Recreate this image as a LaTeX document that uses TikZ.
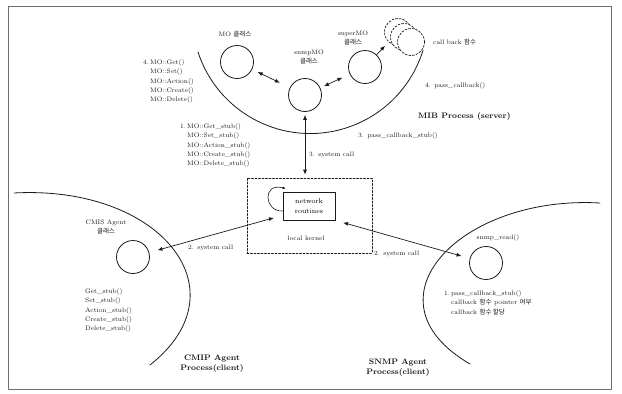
\documentclass[tikz,border=0pt]{standalone}
\usepackage{fontspec}
\newfontfamily\kr{Noto Sans CJK KR}
\usetikzlibrary{arrows.meta}
\definecolor{MIBInk}{HTML}{1A1A1A}
\definecolor{MIBFrame}{HTML}{6E6E6E}

\begin{document}
\begin{tikzpicture}[x=1pt,y=-1pt,line cap=round,line join=round,
  font=\fontsize{6.5}{9.3}\selectfont,
  obj/.style={circle,draw=MIBInk,line width=0.8pt,minimum size=33pt,inner sep=0pt},
  cbobj/.style={circle,draw=MIBInk,fill=white,dash pattern=on 2pt off 1.6pt,line width=0.7pt,minimum size=27pt,inner sep=0pt},
  lbl/.style={align=center,inner sep=0pt,text=MIBInk},
  txt/.style={inner sep=0pt,anchor=north west,text=MIBInk},
  proc/.style={font=\fontsize{8}{10}\selectfont\bfseries,align=center,inner sep=0pt,text=MIBInk},
  link/.style={{Latex[length=5pt,width=4pt]}-{Latex[length=5pt,width=4pt]},draw=MIBInk,line width=0.7pt},
  bound/.style={draw=MIBInk,line width=0.8pt}]
  \useasboundingbox (0,0) rectangle (622,394);
  \draw[MIBFrame,line width=0.6pt] (8,6) rectangle (611,389);

  % MIB process (server)
  \draw[bound] (198,52) arc[start angle=162,end angle=17,radius=118];
  \node[obj] (mo) at (237,62) {};
  \node[lbl] (molbl) at (235,34) {MO {\kr 클래스}};
  \node[obj] (snmpmo) at (305,95) {};
  \node[lbl] (snmpmolbl) at (309,57) {snmpMO\\{\kr 클래스}};
  \node[obj] (supermo) at (365,67) {};
  \node[lbl] (supermolbl) at (353,38) {superMO\\{\kr 클래스}};
  \node[cbobj] (cba) at (398,32) {};
  \node[cbobj] (cbb) at (404,37) {};
  \node[cbobj] (cbc) at (411,42) {};
  \node[lbl,anchor=west] (cblbl) at (433,42) {call back {\kr 함수}};
  \draw[link,shorten <=6pt,shorten >=11pt] (mo) -- (snmpmo);
  \draw[link,shorten <=4pt,shorten >=8pt] (snmpmo) -- (supermo);
  \draw[-{Latex[length=5pt,width=4pt]},draw=MIBInk,line width=0.7pt,shorten >=5pt] (supermo) -- (cba);
  \node[txt] (molist) at (143,57.8) {\begin{tabular}{@{}r@{\,}l@{}}4. & MO::Get()\\ & MO::Set()\\ & MO::Action()\\ & MO::Create()\\ & MO::Delete()\end{tabular}};
  \node[txt] (stublist) at (180,121.8) {\begin{tabular}{@{}r@{\,}l@{}}1. & MO::Get\_stub()\\ & MO::Set\_stub()\\ & MO::Action\_stub()\\ & MO::Create\_stub()\\ & MO::Delete\_stub()\end{tabular}};
  \node[lbl,anchor=west] (passcb) at (425,86) {4. pass\_callback()};
  \node[proc,anchor=west] (mibproc) at (418,116) {MIB Process (server)};
  \node[lbl,anchor=west] (passstub) at (358,136) {3. pass\_callback\_stub()};

  % local kernel
  \node[draw=MIBInk,dash pattern=on 2pt off 1.5pt,line width=0.6pt,minimum width=125pt,minimum height=75pt] (kernel) at (309.5,215.5) {};
  \node[draw=MIBInk,line width=0.8pt,minimum width=52pt,minimum height=28pt,align=center,inner sep=0pt,font=\fontsize{7}{10}\selectfont] (routines) at (309,206) {network\\routines};
  \node[lbl] (kernellbl) at (306,238) {local kernel};
  \draw[-{Latex[length=3pt,width=3pt]},draw=MIBInk,line width=0.6pt] ([yshift=-5pt]routines.west) .. controls (264,212) and (262,182) .. ([xshift=3pt,yshift=3pt]routines.north west);
  \draw[link,shorten <=3pt,shorten >=3pt] (snmpmo.south) -- (kernel.north -| snmpmo);
  \node[lbl,anchor=west] (syscallup) at (309,155) {3. system call};

  % CMIP agent process (client)
  \draw[bound] (14,193) .. controls (160,185) and (245,290) .. (150,365);
  \node[obj] (cmis) at (133,257) {};
  \node[lbl] (cmislbl) at (106,227) {CMIS Agent\\{\kr 클래스}};
  \node[txt] (cmislist) at (85,286.8) {\begin{tabular}{@{}l@{}}Get\_stub()\\ Set\_stub()\\ Action\_stub()\\ Create\_stub()\\ Delete\_stub()\end{tabular}};
  \draw[link,shorten <=8.5pt,shorten >=9pt] (cmis) -- ([yshift=5pt]routines.south west);
  \node[lbl,anchor=west] (syscallleft) at (188,248) {2. system call};
  \node[proc] (cmipproc) at (212,364) {CMIP Agent\\Process(client)};

  % SNMP agent process (client)
  \draw[bound] (600,203) .. controls (460,195) and (360,300) .. (470,364);
  \node[obj] (snmp) at (486,263) {};
  \node[lbl] (snmplbl) at (498,238) {snmp\_read()};
  \node[txt] (snmplist) at (444,288.8) {\begin{tabular}{@{}r@{\,}l@{}}1. & pass\_callback\_stub()\\ & callback {\kr 함수} pointer {\kr 여부}\\ & callback {\kr 함수 할당}\end{tabular}};
  \draw[link,shorten <=8pt,shorten >=8.5pt] (routines.south east) -- (snmp);
  \node[lbl,anchor=west] (syscallright) at (374,254) {2. system call};
  \node[proc] (snmpproc) at (398,368) {SNMP Agent\\Process(client)};
\end{tikzpicture}
\end{document}
